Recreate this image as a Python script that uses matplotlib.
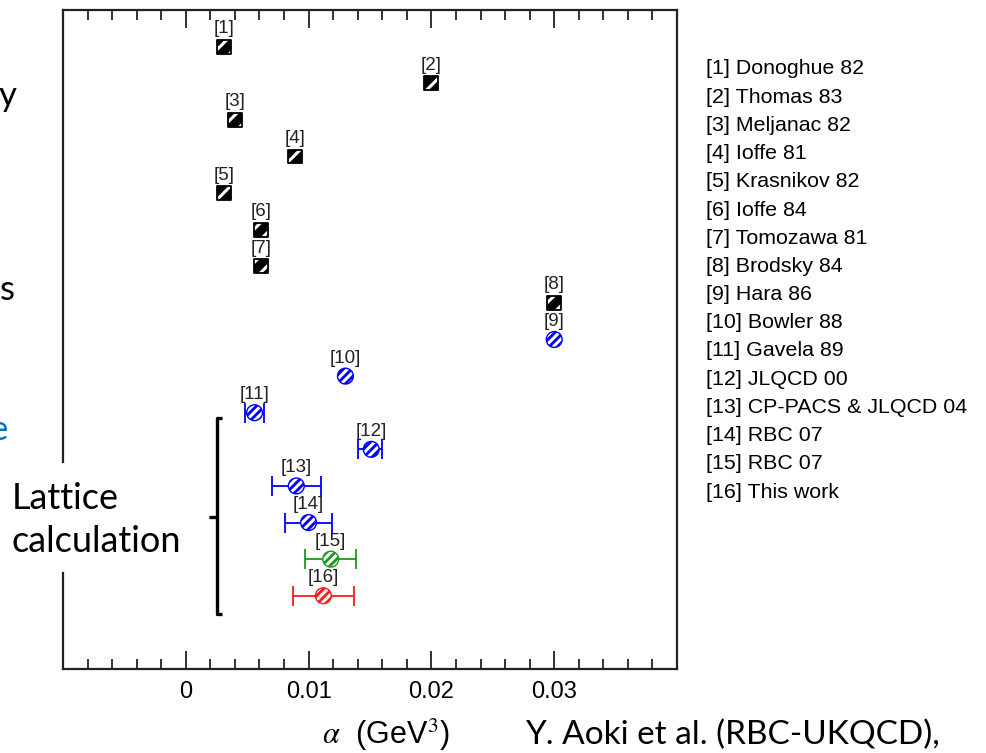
import matplotlib
matplotlib.use("Agg")
import matplotlib.pyplot as plt
from matplotlib.lines import Line2D

plt.rcParams['font.family'] = ['Liberation Sans', 'DejaVu Sans']
plt.rcParams['mathtext.fontset'] = 'stix'
plt.rcParams['hatch.linewidth'] = 2.2

# data: alpha values (GeV^3) for each reference, row index = position from top
refs = ["Donoghue 82", "Thomas 83", "Meljanac 82", "Ioffe 81", "Krasnikov 82",
        "Ioffe 84", "Tomozawa 81", "Brodsky 84", "Hara 86", "Bowler 88",
        "Gavela 89", "JLQCD 00", "CP-PACS & JLQCD 04", "RBC 07", "RBC 07",
        "This work"]
alpha = [0.0031, 0.0200, 0.0040, 0.0089, 0.0031, 0.0061, 0.0061, 0.0300,
         0.0300, 0.0130, 0.0056, 0.0151, 0.0090, 0.0100, 0.0118, 0.0112]
err_lo = [0, 0, 0, 0, 0, 0, 0, 0, 0, 0, 0.0008, 0.0011, 0.0020, 0.0019, 0.0021, 0.0025]
err_hi = [0, 0, 0, 0, 0, 0, 0, 0, 0, 0, 0.0008, 0.0009, 0.0020, 0.0019, 0.0021, 0.0025]
kind = ['sq'] * 8 + ['ci'] * 8
colors = ['black'] * 8 + ['blue'] * 6 + ['#1a9a1a', '#ff1a1a']

W, H = 987, 753


def fx(x):
    return x / W


def fy(y):
    return 1 - y / H


fig = plt.figure(figsize=(W / 100, H / 100), dpi=100)
ax = fig.add_axes([fx(63), fy(669), fx(677) - fx(63), fy(10) - fy(669)])

rows = list(range(1, len(alpha) + 1))

for i in range(len(alpha)):
    y = rows[i]
    c = colors[i]
    if err_lo[i] > 0:
        ax.errorbar([alpha[i]], [y], xerr=[[err_lo[i]], [err_hi[i]]], fmt='none',
                    ecolor=c, elinewidth=1.3, capsize=7, capthick=1.3, zorder=2)
    if kind[i] == 'sq':
        ax.scatter([alpha[i]], [y], marker='s', s=100, facecolor=c, edgecolor='white',
                   linewidth=0, hatch='//', zorder=3)
        ax.scatter([alpha[i]], [y], marker='s', s=100, facecolor='none', edgecolor='black',
                   linewidth=1.3, zorder=4)
    else:
        ax.scatter([alpha[i]], [y], marker='o', s=130, facecolor=c, edgecolor='white',
                   linewidth=0, hatch='////', zorder=3)
        ax.scatter([alpha[i]], [y], marker='o', s=130, facecolor='none', edgecolor=c,
                   linewidth=1.0, zorder=4)
    ax.annotate(f"[{i + 1}]", (alpha[i], y), xytext=(0, 13), textcoords='offset points',
                ha='center', va='center', fontsize=13.5, color='#222222')

ax.set_xlim(-0.01, 0.04)
ax.set_ylim(18, 0)
ax.set_xticks([0, 0.01, 0.02, 0.03])
ax.set_xticklabels(['0', '0.01', '0.02', '0.03'])
ax.set_xticks([x / 1000 for x in range(-8, 40, 2) if x % 10 != 0], minor=True)
ax.tick_params(axis='x', which='both', direction='in', top=True, bottom=True,
               labelsize=17, pad=9, width=1.3, color='#222222')
ax.tick_params(axis='x', which='major', length=13)
ax.tick_params(axis='x', which='minor', length=7)
ax.set_yticks([])
for s in ax.spines.values():
    s.set_linewidth(1.6)
    s.set_color('#222222')

# left spine is interrupted by the "Lattice calculation" label
ax.spines['left'].set_visible(False)
for y0, y1 in [(10, 462), (573, 669)]:
    fig.add_artist(Line2D([fx(63), fx(63)], [fy(y0), fy(y1)], color='#222222', lw=1.6))

# bracket for lattice results
bk = dict(color='black', lw=2.4, solid_capstyle='butt', solid_joinstyle='round')
fig.add_artist(Line2D([fx(222), fx(217), fx(217), fx(222)],
                      [fy(418), fy(418), fy(614), fy(614)], **bk))
fig.add_artist(Line2D([fx(209), fx(217)], [fy(517), fy(517)], **bk))

fig.text(fx(12), fy(520), "Lattice\ncalculation", ha='left', va='center',
         fontsize=26, family=['Lato', 'DejaVu Sans'], linespacing=1.4)

# legend list
for i, name in enumerate(refs):
    fig.text(fx(706), fy(69 + 28.2 * i), f"[{i + 1}] {name}", ha='left', va='center',
             fontsize=15.4)

fig.text(fx(386), fy(735), r"$\alpha$  (GeV$^3$)", ha='center', va='center', fontsize=22)
fig.text(fx(525), fy(735), "Y. Aoki et al. (RBC-UKQCD),", ha='left', va='center',
         fontsize=24, family=['Lato', 'DejaVu Sans'])

# fragments of slide text cut off at the left edge
fig.text(fx(-1), fy(106), "y", ha='left', va='baseline', fontsize=25,
         family=['Lato', 'DejaVu Sans'])
fig.text(fx(0), fy(300), "s", ha='left', va='baseline', fontsize=25,
         family=['Lato', 'DejaVu Sans'])
fig.text(fx(8), fy(440), "e", ha='right', va='baseline', fontsize=25,
         family=['Lato', 'DejaVu Sans'], color='#0070c0')

fig.savefig("out.png", dpi=100)
